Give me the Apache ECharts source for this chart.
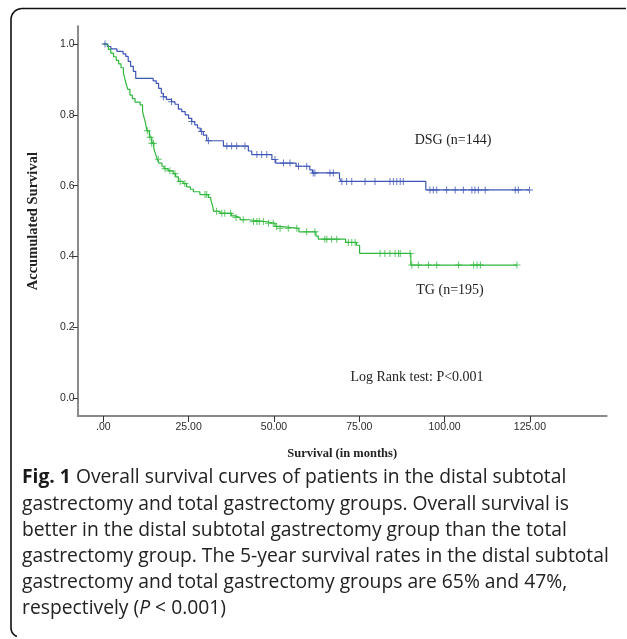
<!DOCTYPE html>
<html>
<head>
<meta charset="utf-8">
<script src="https://cdn.jsdelivr.net/npm/echarts@6/dist/echarts.min.js"></script>
<style>
html,body{margin:0;padding:0;background:#fff;}
#chart{width:627px;height:639px;}
</style>
</head>
<body>
<div id="chart"></div>
<script>
// ---- Data ----
// Kaplan-Meier step points: [time in months, survival after event]
const dsgEvents = [
  [0,1.0],[1.2,0.993],[2.2,0.986],[4,0.979],[5.8,0.972],[6.6,0.965],[7.3,0.951],[8,0.937],
  [8.8,0.923],[9.5,0.903],[14.6,0.896],[15.5,0.889],[16.2,0.875],[17,0.861],[17.6,0.851],
  [18.5,0.844],[20,0.837],[21,0.83],[22,0.816],[23,0.809],[24,0.8],[25,0.79],[25.9,0.781],
  [26.8,0.772],[27.6,0.763],[28.4,0.753],[29.3,0.743],[30.3,0.727],[35.2,0.712],[42.5,0.698],
  [43.5,0.688],[49.4,0.674],[50.5,0.664],[56.5,0.655],[60.5,0.645],[61.3,0.636],[69.2,0.622],
  [69.6,0.612],[94.5,0.588]
];
const dsgLastFollowUp = 124.9;
const dsgCensored = [
  0.5,17.6,20,25.9,28.8,30.8,36.2,37.6,39.1,41.5,45,46.4,47.9,50.3,52.8,54.7,57.2,59.6,61.5,62,
  66.4,67.4,69.9,71.3,72.8,76.7,79.6,84,85,86,87,87.9,95.7,96.7,97.7,100.6,103.1,105.5,108,108.9,
  109.9,111.9,120.7,121.6,124.9
];
const tgEvents = [
  [0,1.0],[0.8,0.995],[1.5,0.985],[2.2,0.974],[3,0.964],[3.8,0.954],[4.5,0.944],[5.2,0.933],
  [5.9,0.918],[6.3,0.903],[6.7,0.887],[7.2,0.872],[7.8,0.856],[8.5,0.846],[9.3,0.836],[10.8,0.828],
  [11.5,0.81],[12,0.79],[12.4,0.775],[12.8,0.755],[13.5,0.737],[14.2,0.72],[14.8,0.705],[15.3,0.69],
  [15.8,0.675],[16.3,0.664],[17.2,0.655],[17.8,0.648],[19,0.642],[20.5,0.634],[21.2,0.625],[22,0.612],
  [23.4,0.606],[24.4,0.597],[25.5,0.59],[26.4,0.583],[28.3,0.575],[30.8,0.567],[31.5,0.56],[32,0.545],
  [32.3,0.528],[34.2,0.522],[37.6,0.515],[38.6,0.51],[40.1,0.504],[42.5,0.499],[47.5,0.494],[50.3,0.485],
  [51.5,0.48],[57.3,0.47],[62.3,0.458],[63,0.449],[71,0.44],[74.2,0.432],[75.1,0.409],[90.1,0.376]
];
const tgLastFollowUp = 121.2;
const tgCensored = [
  12.9,13.7,14.2,14.7,16.1,18.1,19.5,21,22.5,23.9,29.8,30.3,33.2,34.7,35.6,37.3,38.9,41,44,45,45.7,
  46.9,48.4,49.8,50.8,51.8,54.2,56.7,59.6,62,64.9,65.5,66.9,68.4,71.8,72.8,73.8,81.1,82.5,84,85.5,
  86.5,87,89.9,90.4,92.3,95.3,97.7,104.1,108.5,109.5,110.5,121.2
];
const xTicks = [0,25,50,75,100,125];
const yTicks = [0,0.2,0.4,0.6,0.8,1.0];
const groupLabels = ['DSG (n=144)','TG (n=195)'];
const testLabel = 'Log Rank test: P<0.001';
const xName = 'Survival (in months)';
const yName = 'Accumulated Survival';
const captionLines = [
  '{b|Fig. 1} Overall survival curves of patients in the distal subtotal',
  'gastrectomy and total gastrectomy groups. Overall survival is',
  'better in the distal subtotal gastrectomy group than the total',
  'gastrectomy group. The 5-year survival rates in the distal subtotal',
  'gastrectomy and total gastrectomy groups are 65% and 47%,',
  'respectively ({i|P} < 0.001)'
];

// ---- helpers ----
function stepValue(events, t){
  let v = events[0][1];
  for (const e of events){ if (e[0] <= t) v = e[1]; else break; }
  return v;
}
function lineData(events, last){
  const d = events.map(e => [e[0], e[1]]);
  d.push([last, events[events.length-1][1]]);
  return d;
}
function censorData(events, times){ return times.map(t => [t, stepValue(events, t)]); }

const BLUE = '#3d55b6';
const GREEN = '#2fb83c';
const PLUS = 'path://M4.3,0H5.7V4.3H10V5.7H5.7V10H4.3V5.7H0V4.3H4.3Z';
const serif = '"Liberation Serif","Times New Roman",serif';
const CAP_FONT = '"Open Sans"';
const CAP_SIZE = 19.3;

// frame outline (decoration): top edge, rounded top-left corner, left edge, rounded bottom-left corner
function framePoints(){
  const pts = [[626, 8.5]];
  const r = 11, cx1 = 22, cy1 = 19.5;
  for (let a = 90; a <= 180; a += 10){
    const rad = a*Math.PI/180; pts.push([cx1 + r*Math.cos(rad), cy1 - r*Math.sin(rad)]);
  }
  const cx2 = 20, cy2 = 628;
  for (let a = 180; a <= 250; a += 10){
    const rad = a*Math.PI/180; pts.push([cx2 + 9*Math.cos(rad), cy2 - 9*Math.sin(rad)]);
  }
  return pts;
}

const chart = echarts.init(document.getElementById('chart'), null, {renderer:'canvas'});

const captionGraphics = captionLines.map((t, i) => ({
  type:'text', x: 22, y: 478 + i*26.1,
  style:{
    text: t, fill:'#222', fontFamily:CAP_FONT, fontSize:CAP_SIZE,
    verticalAlign:'middle', align:'left',
    rich:{ b:{fontWeight:'bold', fontSize:CAP_SIZE, fontFamily:CAP_FONT, fill:'#1a1a1a'},
           i:{fontStyle:'italic', fontSize:CAP_SIZE, fontFamily:CAP_FONT, fill:'#222'} }
  }
}));

chart.setOption({
  animation:false,
  backgroundColor:'#fff',
  grid:{ left:77.7, top:26.3, width:529, height:389.7, containLabel:false },
  xAxis:{
    type:'value', min:-7.5, max:147.5,
    name:xName, nameLocation:'middle', nameGap:31,
    nameTextStyle:{ fontFamily:serif, fontWeight:'bold', fontSize:12.5, color:'#222' },
    axisLine:{ show:true, onZero:false, lineStyle:{ color:'#8a8a8a', width:2 } },
    axisTick:{ show:true, customValues:xTicks, length:6, lineStyle:{ color:'#333', width:1 } },
    axisLabel:{ customValues:xTicks, margin:6, fontFamily:'"Liberation Sans",Arial,sans-serif', fontSize:10.5, color:'#2a2a2a',
      formatter: v => v === 0 ? '.00' : v.toFixed(2) },
    splitLine:{ show:false }
  },
  yAxis:{
    type:'value', min:-0.05, max:1.05,
    name:yName, nameLocation:'middle', nameGap:37, nameRotate:90,
    nameTextStyle:{ fontFamily:serif, fontWeight:'bold', fontSize:14.5, color:'#222' },
    axisLine:{ show:true, onZero:false, lineStyle:{ color:'#8a8a8a', width:2 } },
    axisTick:{ show:true, customValues:yTicks, length:5, lineStyle:{ color:'#333', width:1 } },
    axisLabel:{ customValues:yTicks, margin:3, fontFamily:'"Liberation Sans",Arial,sans-serif', fontSize:10.5, color:'#2a2a2a',
      formatter: v => v.toFixed(1) },
    splitLine:{ show:false }
  },
  series:[
    { type:'line', step:'end', data:lineData(dsgEvents, dsgLastFollowUp), showSymbol:false, symbol:'none',
      lineStyle:{ color:BLUE, width:1.2 }, z:3 },
    { type:'line', step:'end', data:lineData(tgEvents, tgLastFollowUp), showSymbol:false, symbol:'none',
      lineStyle:{ color:GREEN, width:1.2 }, z:3 },
    { type:'scatter', data:censorData(dsgEvents, dsgCensored), symbol:PLUS, symbolSize:7,
      itemStyle:{ color:BLUE }, z:4 },
    { type:'scatter', data:censorData(tgEvents, tgCensored), symbol:PLUS, symbolSize:7,
      itemStyle:{ color:GREEN }, z:4 }
  ],
  graphic:[
    { type:'polyline', shape:{ points: framePoints() },
      style:{ fill:null, stroke:'#111', lineWidth:1.6 } },
    { type:'text', x:453, y:140, style:{ text:groupLabels[0], fontFamily:serif, fontSize:14, fill:'#222', align:'center', verticalAlign:'middle' } },
    { type:'text', x:450, y:290, style:{ text:groupLabels[1], fontFamily:serif, fontSize:14, fill:'#222', align:'center', verticalAlign:'middle' } },
    { type:'text', x:417, y:377, style:{ text:testLabel, fontFamily:serif, fontSize:14, fill:'#222', align:'center', verticalAlign:'middle' } }
  ].concat(captionGraphics)
});
</script>
</body>
</html>
